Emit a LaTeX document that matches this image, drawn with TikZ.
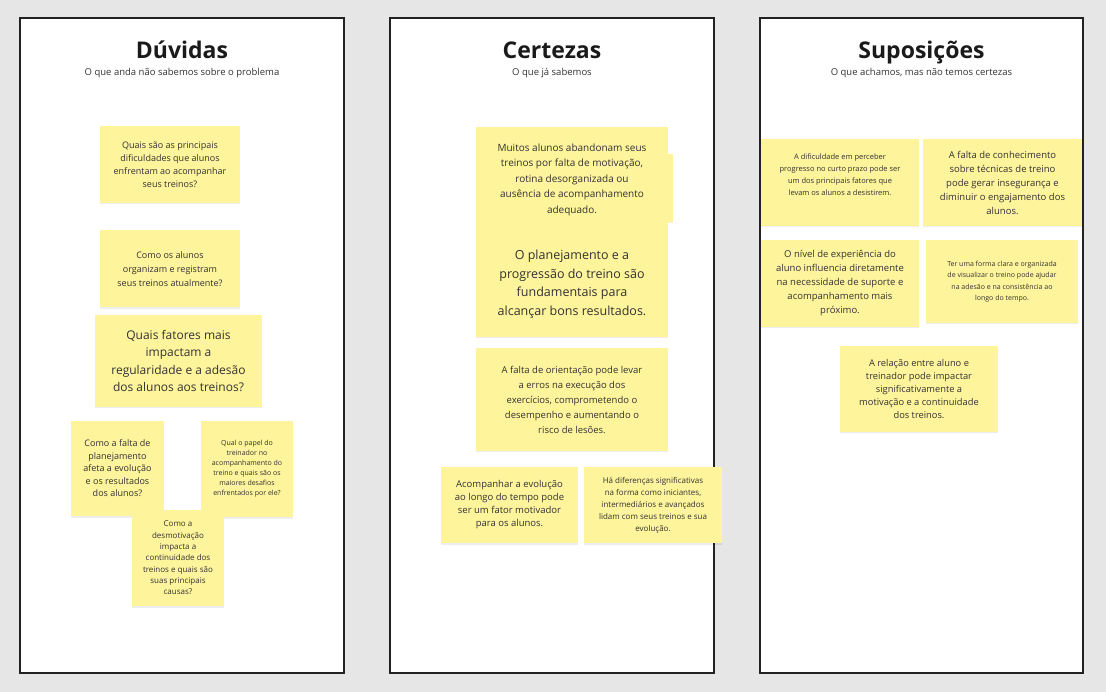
\documentclass[tikz,border=0pt]{standalone}
\usepackage{fontspec}
\setmainfont{Open Sans}
\usepackage{tikz}
\usetikzlibrary{shadows}

\definecolor{boardgray}{HTML}{E6E6E6}
\definecolor{panelline}{HTML}{222222}
\definecolor{notefill}{HTML}{FEF49C}
\definecolor{notetext}{HTML}{333333}
\definecolor{titletext}{HTML}{1A1A1A}

\tikzset{
  panel/.style={draw=panelline, line width=2.5pt, fill=white},
  note/.style={fill=notefill, text=notetext, align=center, inner sep=2pt,
    drop shadow={shadow xshift=0pt, shadow yshift=-1.5pt, opacity=0.07, fill=black}},
  heading/.style={anchor=base, font=\fontsize{23}{26}\selectfont\bfseries, text=titletext},
  subheading/.style={anchor=base, font=\fontsize{9.5}{12}\selectfont, text=notetext}
}

\begin{document}
\begin{tikzpicture}[x=1pt, y=-1pt]
        % board
        \fill[boardgray] (0,0) rectangle (1106,692);
        \useasboundingbox (0,0) rectangle (1106,692);

        % Columns
        \draw[panel] (20,18) rectangle (344,673);
        \draw[panel] (390,18) rectangle (714,673);
        \draw[panel] (760,18) rectangle (1083,673);

        \node[heading] (h1) at (182,59) {Dúvidas};
        \node[subheading] (sh1) at (182,76) {O que anda não sabemos sobre o problema};
        \node[heading] (h2) at (552,59) {Certezas};
        \node[subheading] (sh2) at (552,76) {O que já sabemos};
        \node[heading] (h3) at (921.5,59) {Suposições};
        \node[subheading] (sh3) at (921.5,76) {O que achamos, mas não temos certezas};

        % Dúvidas
        \node[note, minimum width=140, minimum height=77, font=\fontsize{9}{13}\selectfont] (q1) at (170,164.5)
            {Quais são as principais\\dificuldades que alunos\\enfrentam ao acompanhar\\seus treinos?};
        \node[note, minimum width=140, minimum height=77, font=\fontsize{9}{14}\selectfont] (q2) at (170,269)
            {Como os alunos\\organizam e registram\\seus treinos atualmente?};
        \node[note, minimum width=167, minimum height=92, font=\fontsize{12}{17.5}\selectfont] (q3) at (178.5,361)
            {Quais fatores mais\\impactam a\\regularidade e a adesão\\dos alunos aos treinos?};
        \node[note, minimum width=93, minimum height=95, font=\fontsize{9}{12.5}\selectfont] (q4) at (117.5,468.5)
            {Como a falta de\\planejamento\\afeta a evolução\\e os resultados\\dos alunos?};
        \node[note, minimum width=92, minimum height=96, font=\fontsize{7}{10}\selectfont] (q5) at (247,469)
            {Qual o papel do\\treinador no\\acompanhamento do\\treino e quais são os\\maiores desafios\\enfrentados por ele?};
        \node[note, minimum width=92, minimum height=96, font=\fontsize{8}{11.3}\selectfont] (q6) at (178,558)
            {Como a\\desmotivação\\impacta a\\continuidade dos\\treinos e quais são\\suas principais\\causas?};

        % Certezas
        \node[note, minimum width=113, minimum height=68] (c0) at (616.5,188) {};
        \node[note, minimum width=192, minimum height=105, font=\fontsize{10}{15.5}\selectfont] (c1) at (572,179.5)
            {Muitos alunos abandonam seus\\treinos por falta de motivação,\\rotina desorganizada ou\\ausência de acompanhamento\\adequado.};
        \node[note, minimum width=192, minimum height=105, font=\fontsize{12.5}{18.5}\selectfont] (c2) at (572,284.5)
            {O planejamento e a\\progressão do treino são\\fundamentais para\\alcançar bons resultados.};
        \node[note, minimum width=192, minimum height=103, font=\fontsize{9.5}{15}\selectfont] (c3) at (572,399.5)
            {A falta de orientação pode levar\\a erros na execução dos\\exercícios, comprometendo o\\desempenho e aumentando o\\risco de lesões.};
        \node[note, minimum width=137, minimum height=76, font=\fontsize{9.5}{13}\selectfont] (c4) at (509.5,505)
            {Acompanhar a evolução\\ao longo do tempo pode\\ser um fator motivador\\para os alunos.};
        \node[note, minimum width=138, minimum height=76, font=\fontsize{8}{12}\selectfont] (c5) at (653,505)
            {Há diferenças significativas\\na forma como iniciantes,\\intermediários e avançados\\lidam com seus treinos e sua\\evolução.};

        % Suposições
        \node[note, minimum width=158, minimum height=87, font=\fontsize{7.5}{12}\selectfont] (s1) at (840,182.5)
            {A dificuldade em perceber\\progresso no curto prazo pode ser\\um dos principais fatores que\\levam os alunos a desistirem.\\[3pt]\mbox{}};
        \node[note, minimum width=159, minimum height=87, font=\fontsize{9.5}{14}\selectfont] (s2) at (1002.5,182.5)
            {A falta de conhecimento\\sobre técnicas de treino\\pode gerar insegurança e\\diminuir o engajamento dos\\alunos.};
        \node[note, minimum width=158, minimum height=87, font=\fontsize{9.5}{14}\selectfont] (s3) at (840,283.5)
            {O nível de experiência do\\aluno influencia diretamente\\na necessidade de suporte e\\acompanhamento mais\\próximo.};
        \node[note, minimum width=152, minimum height=83, font=\fontsize{7}{11.5}\selectfont] (s4) at (1002,281.5)
            {Ter uma forma clara e organizada\\de visualizar o treino pode ajudar\\na adesão e na consistência ao\\longo do tempo.};
        \node[note, minimum width=158, minimum height=86, font=\fontsize{9.3}{13}\selectfont] (s5) at (919,389)
            {A relação entre aluno e\\treinador pode impactar\\significativamente a\\motivação e a continuidade\\dos treinos.};
\end{tikzpicture}
\end{document}
